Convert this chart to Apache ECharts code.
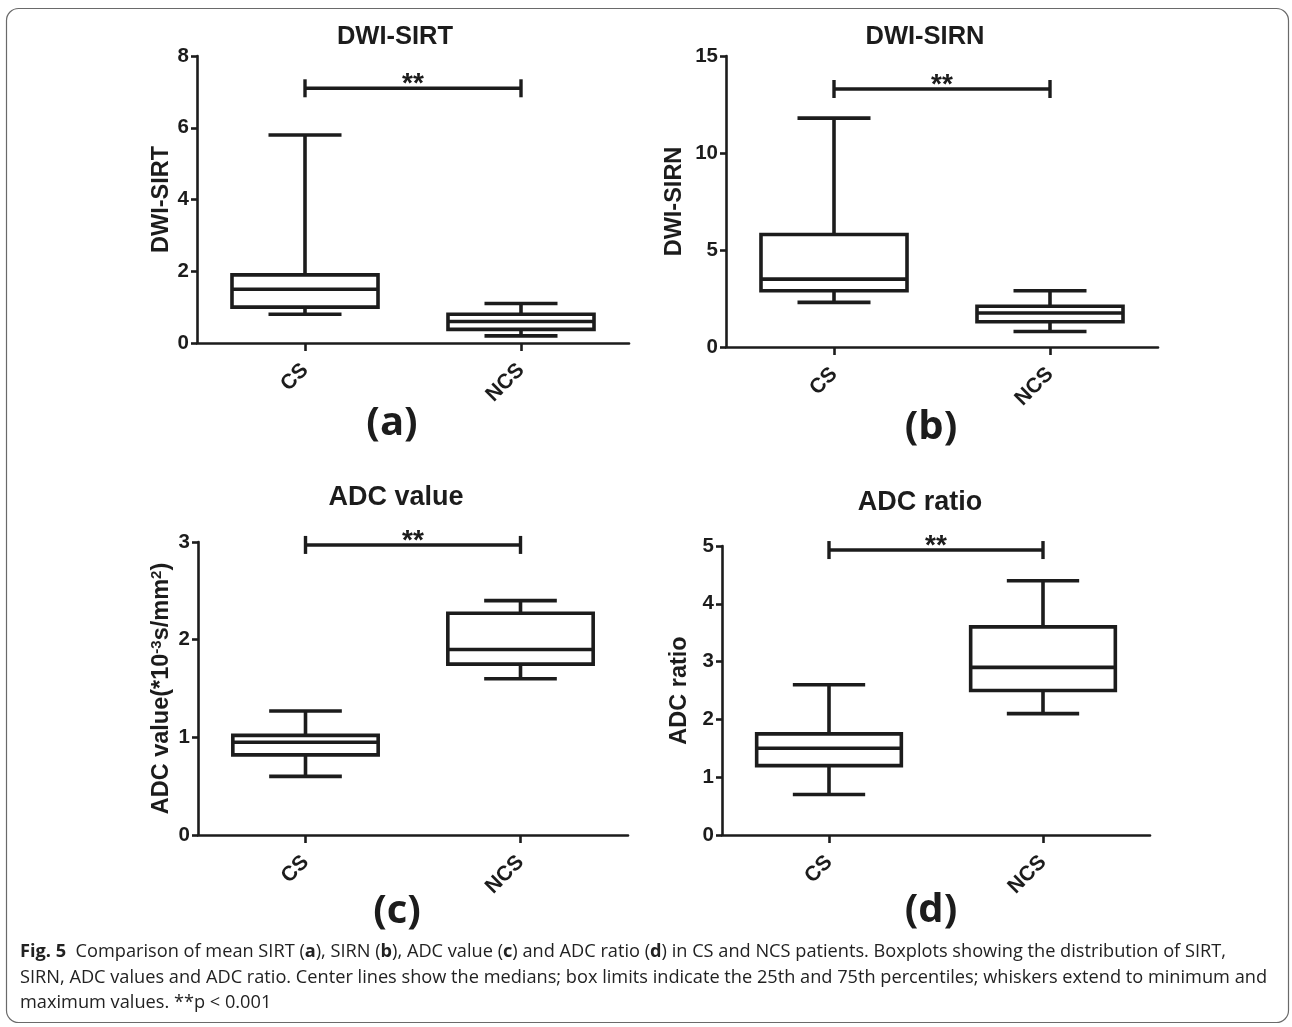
<!DOCTYPE html>
<html>
<head>
<meta charset="utf-8">
<script src="https://cdn.jsdelivr.net/npm/echarts@6/dist/echarts.min.js"></script>
<style>
html,body{margin:0;padding:0;background:#fff;}
#chart{width:1292px;height:1027px;}
</style>
</head>
<body>
<div id="chart"></div>
<script>
// ---------- DATA ----------
const categories = ['CS', 'NCS'];
// each row: [min, Q1, median, Q3, max]
const sirtCS  = [0.8, 1.0, 1.5, 1.9, 5.8];
const sirtNCS = [0.2, 0.38, 0.6, 0.8, 1.1];
const sirnCS  = [2.3, 2.9, 3.5, 5.8, 11.8];
const sirnNCS = [0.8, 1.3, 1.75, 2.1, 2.9];
const adcValCS  = [0.6, 0.82, 0.95, 1.02, 1.27];
const adcValNCS = [1.6, 1.75, 1.9, 2.27, 2.4];
const adcRatioCS  = [0.7, 1.2, 1.5, 1.75, 2.6];
const adcRatioNCS = [2.1, 2.5, 2.9, 3.6, 4.4];
const sigLevels = [7.1, 13.3, 2.97, 4.93];
const sigText = '**';
const panelTitles = ['DWI-SIRT', 'DWI-SIRN', 'ADC value', 'ADC ratio'];
const yNames = ['DWI-SIRT', 'DWI-SIRN', 'ADC value(*10{sup|-3}s/mm{sup|2})', 'ADC ratio'];
const yMax = [8, 15, 3, 5];
const yInterval = [2, 5, 1, 1];
const panelLabels = ['(a)', '(b)', '(c)', '(d)'];
const captionLines = [
  '{b|Fig. 5}  Comparison of mean SIRT ({b|a}), SIRN ({b|b}), ADC value ({b|c}) and ADC ratio ({b|d}) in CS and NCS patients. Boxplots showing the distribution of SIRT,',
  'SIRN, ADC values and ADC ratio. Center lines show the medians; box limits indicate the 25th and 75th percentiles; whiskers extend to minimum and',
  'maximum values. **p < 0.001'
];
const boxData = [
  [sirtCS, sirtNCS],
  [sirnCS, sirnNCS],
  [adcValCS, adcValNCS],
  [adcRatioCS, adcRatioNCS]
];

// ---------- LAYOUT / STYLE ----------
const INK = '#1c1c1c';
const grids = [
  {left: 197, top: 56, width: 432, height: 287},
  {left: 726, top: 56, width: 432, height: 291},
  {left: 198, top: 542, width: 430, height: 293},
  {left: 722, top: 546, width: 428, height: 289}
];
const nameGaps = [22, 39, 24, 30];
const titlePos = [[395, 37], [925, 37], [396, 498], [920, 503]];
const titleSize = [25.5, 25.5, 27, 27];
const labelPos = [[392, 424], [931, 428], [397, 912], [931, 911]];
const LW = 3.6;

const chart = echarts.init(document.getElementById('chart'), null, {renderer: 'canvas'});

const xAxes = [], yAxes = [], series = [], graphics = [];
grids.forEach((g, i) => {
  xAxes.push({
    type: 'category', gridIndex: i, data: categories, boundaryGap: true,
    axisLine: {show: true, onZero: false, lineStyle: {color: INK, width: 2.6}},
    axisTick: {show: true, alignWithLabel: true, length: 8, lineStyle: {color: INK, width: 2.6}},
    axisLabel: {rotate: 45, margin: 24, color: INK, fontFamily: 'Liberation Sans', fontWeight: 'bold', fontSize: 21},
    splitLine: {show: false}
  });
  yAxes.push({
    type: 'value', gridIndex: i, min: 0, max: yMax[i], interval: yInterval[i],
    name: yNames[i], nameLocation: 'middle', nameGap: nameGaps[i],
    nameTextStyle: {color: INK, fontFamily: 'Liberation Sans', fontWeight: 'bold', fontSize: 23.5,
      rich: {sup: {fontSize: 15, fontFamily: 'Liberation Sans', fontWeight: 'bold', color: INK, verticalAlign: 'top', padding: [0, 0, 10, 0]}}},
    axisLine: {show: true, lineStyle: {color: INK, width: 2.6}},
    axisTick: {show: true, length: 6, lineStyle: {color: INK, width: 2.6}},
    axisLabel: {margin: 8, color: INK, fontFamily: 'Liberation Sans', fontWeight: 'bold', fontSize: 20.5},
    splitLine: {show: false}
  });
  // box plots
  series.push({
    type: 'custom', xAxisIndex: i, yAxisIndex: i,
    data: boxData[i].map((r, k) => [k].concat(r)),
    renderItem: function (params, api) {
      const cat = api.value(0);
      const band = api.size([1, 0])[0];
      const bw = band * 0.676;
      const cw = bw / 2;
      const x = api.coord([cat, 0])[0];
      const y = v => api.coord([cat, v])[1];
      const yMin = y(api.value(1)), yQ1 = y(api.value(2)), yMed = y(api.value(3)),
            yQ3 = y(api.value(4)), yMaxv = y(api.value(5));
      const st = {stroke: INK, lineWidth: LW, fill: null};
      return {
        type: 'group',
        children: [
          {type: 'line', shape: {x1: x, y1: yQ3, x2: x, y2: yMaxv}, style: st},
          {type: 'line', shape: {x1: x, y1: yQ1, x2: x, y2: yMin}, style: st},
          {type: 'line', shape: {x1: x - cw / 2, y1: yMaxv, x2: x + cw / 2, y2: yMaxv}, style: st},
          {type: 'line', shape: {x1: x - cw / 2, y1: yMin, x2: x + cw / 2, y2: yMin}, style: st},
          {type: 'rect', shape: {x: x - bw / 2, y: yQ3, width: bw, height: yQ1 - yQ3}, style: {stroke: INK, lineWidth: LW, fill: '#fff'}},
          {type: 'line', shape: {x1: x - bw / 2, y1: yMed, x2: x + bw / 2, y2: yMed}, style: st}
        ]
      };
    }
  });
  // significance bracket
  series.push({
    type: 'custom', xAxisIndex: i, yAxisIndex: i,
    data: [[sigLevels[i]]],
    renderItem: function (params, api) {
      const lv = api.value(0);
      const p1 = api.coord([0, lv]);
      const p2 = api.coord([1, lv]);
      const st = {stroke: INK, lineWidth: 3.4};
      return {
        type: 'group',
        children: [
          {type: 'line', shape: {x1: p1[0], y1: p1[1], x2: p2[0], y2: p2[1]}, style: st},
          {type: 'line', shape: {x1: p1[0], y1: p1[1] - 9, x2: p1[0], y2: p1[1] + 9}, style: st},
          {type: 'line', shape: {x1: p2[0], y1: p2[1] - 9, x2: p2[0], y2: p2[1] + 9}, style: st},
          {type: 'text', style: {x: (p1[0] + p2[0]) / 2, y: p1[1] - 4, text: sigText, textAlign: 'center', textVerticalAlign: 'middle',
            fill: INK, font: 'bold 28px "Liberation Sans"'}}
        ]
      };
    }
  });
  graphics.push({
    type: 'text', x: titlePos[i][0], y: titlePos[i][1],
    style: {text: panelTitles[i], fill: INK, font: 'bold ' + titleSize[i] + 'px "Liberation Sans"', textAlign: 'center', textVerticalAlign: 'middle'}
  });
  graphics.push({
    type: 'text', x: labelPos[i][0], y: labelPos[i][1],
    style: {text: panelLabels[i], fill: INK, font: 'bold 40px "Open Sans"', textAlign: 'center', textVerticalAlign: 'middle'}
  });
});

const capY = [952, 978, 1003];
captionLines.forEach((t, k) => {
  graphics.push({
    type: 'text', x: 20, y: capY[k],
    style: {text: t, fill: '#222', font: '18.2px "Open Sans"', textVerticalAlign: 'middle',
      rich: {b: {font: 'bold 18.2px "Open Sans"', fill: '#222'}}}
  });
});
graphics.push({
  type: 'rect', shape: {x: 6.5, y: 8.5, width: 1282, height: 1014, r: 12},
  style: {fill: null, stroke: '#6a6a6a', lineWidth: 1.2}, z: -1
});

chart.setOption({
  backgroundColor: '#fff',
  animation: false,
  grid: grids,
  xAxis: xAxes,
  yAxis: yAxes,
  series: series,
  graphic: graphics
});
</script>
</body>
</html>
